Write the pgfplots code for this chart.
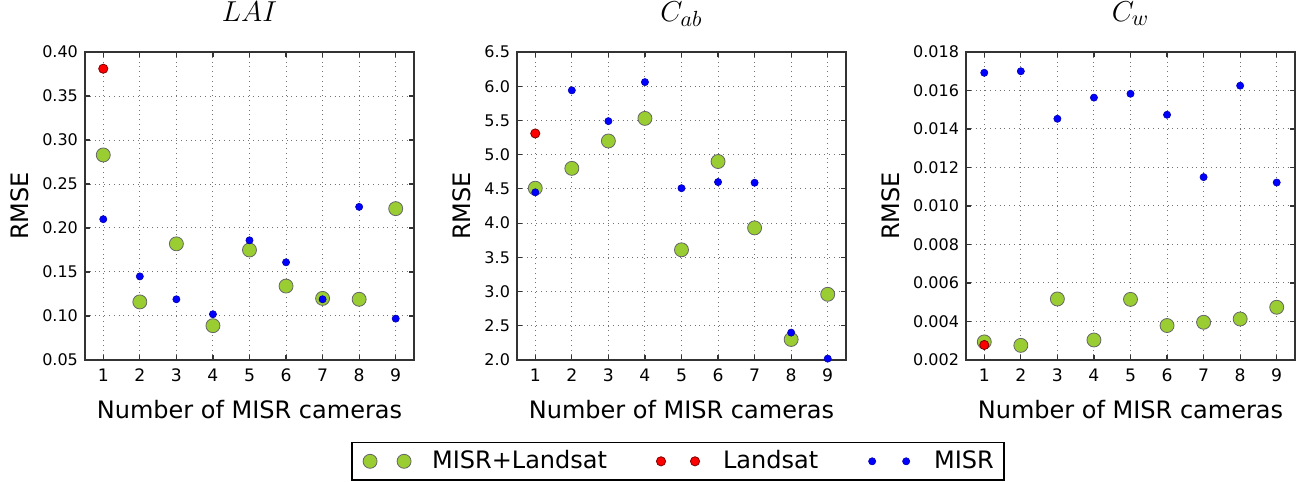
\documentclass[border=0pt]{standalone}
\usepackage{pgfplots}
\pgfplotsset{compat=1.18}
\usepackage{fontspec}
\setmainfont{DejaVu Sans}
\definecolor{mgreen}{HTML}{9ACD32}
\definecolor{mred}{HTML}{FF0000}
\definecolor{mblue}{HTML}{0000FF}
\definecolor{axgray}{HTML}{333333}
\begin{document}
\begin{tikzpicture}
\path[use as bounding box] (0,0) rectangle (649pt,241pt);
\pgfplotsset{
  myax/.style={
    scale only axis, width=164.5pt, height=154pt, anchor=south west,
    xmin=0.5, xmax=9.5, xtick={1,2,3,4,5,6,7,8,9},
    grid=major, grid style={dotted, black!55, line width=0.5pt},
    axis line style={line width=0.75pt, axgray},
    tick style={axgray, line width=0.6pt}, major tick length=2.5pt, tick align=inside,
    tick label style={font=\fontsize{8}{9}\selectfont},
    /pgf/number format/assume math mode=true,
    scaled y ticks=false,
    xticklabel style={yshift=-1pt, font=\fontsize{8.6}{10}\selectfont},
    xlabel={Number of MISR cameras}, ylabel={RMSE},
    label style={font=\fontsize{12}{14}\selectfont},
    xlabel style={at={(0.5,0)}, anchor=center, yshift=-25pt},
    ylabel style={yshift=0pt},
    title style={font=\fontsize{15}{17}\selectfont, at={(0.5,1)}, anchor=base, yshift=9.3pt},
  },
  pgreen/.style={only marks, mark=*, mark size=3.5pt, mark options={fill=mgreen, draw=black!60, line width=0.4pt}},
  pred/.style={only marks, mark=*, mark size=2.3pt, mark options={fill=mred, draw=red!50!black, line width=0.4pt}},
  pblue/.style={only marks, mark=*, mark size=1.8pt, mark options={fill=mblue, draw=mblue!70!black, line width=0.3pt}},
  limg/.style={legend image code/.code={\draw[##1] plot coordinates {(0pt,0pt) (17pt,0pt)}; \path[draw=none,fill=none] (-4pt,-4pt) rectangle (21pt,4pt);}},
}
% ---------- LAI ----------
\begin{axis}[myax, at={(42.5pt,61pt)}, title={$LAI$},
  ymin=0.05, ymax=0.40, ytick={0.05,0.10,0.15,0.20,0.25,0.30,0.35,0.40},
  yticklabel style={/pgf/number format/.cd, fixed, fixed zerofill, precision=2}]
\addplot[pgreen] coordinates {(1,0.283) (2,0.116) (3,0.182) (4,0.089) (5,0.175) (6,0.134) (7,0.120) (8,0.119) (9,0.222)};
\addplot[pred] coordinates {(1,0.381)};
\addplot[pblue] coordinates {(1,0.210) (2,0.145) (3,0.119) (4,0.102) (5,0.186) (6,0.161) (7,0.119) (8,0.224) (9,0.097)};
\end{axis}
% ---------- Cab ----------
\begin{axis}[myax, at={(258.5pt,61pt)}, title={$C_{ab}$},
  ymin=2.0, ymax=6.5, ytick={2.0,2.5,3.0,3.5,4.0,4.5,5.0,5.5,6.0,6.5},
  yticklabel style={/pgf/number format/.cd, fixed, fixed zerofill, precision=1},
  legend columns=3,
  legend style={at={(0.4893,-0.392)}, anchor=south, draw=black, line width=0.8pt,
    font=\fontsize{12}{14}\selectfont, inner xsep=5pt, inner ysep=4pt,
    nodes={inner sep=0pt},
    /tikz/every odd column/.append style={column sep=10pt},
    /tikz/every even column/.append style={column sep=23pt}}]
\addplot[pgreen, limg] coordinates {(1,4.51) (2,4.80) (3,5.20) (4,5.53) (5,3.61) (6,4.90) (7,3.93) (8,2.30) (9,2.96)};
\addlegendentry{MISR+Landsat}
\addplot[pred, limg] coordinates {(1,5.31)};
\addlegendentry{Landsat}
\addplot[pblue, limg] coordinates {(1,4.45) (2,5.94) (3,5.49) (4,6.06) (5,4.51) (6,4.60) (7,4.59) (8,2.40) (9,2.02)};
\addlegendentry{MISR}
\end{axis}
% ---------- Cw ----------
\begin{axis}[myax, at={(483pt,61pt)}, title={$C_{w}$},
  ymin=0.002, ymax=0.018, ytick={0.002,0.004,0.006,0.008,0.010,0.012,0.014,0.016,0.018},
  yticklabel style={/pgf/number format/.cd, fixed, fixed zerofill, precision=3}]
\addplot[pgreen] coordinates {(1,0.00294) (2,0.00276) (3,0.00517) (4,0.00304) (5,0.00515) (6,0.00379) (7,0.00396) (8,0.00413) (9,0.00474)};
\addplot[pred] coordinates {(1,0.00278)};
\addplot[pblue] coordinates {(1,0.01692) (2,0.01700) (3,0.01453) (4,0.01563) (5,0.01583) (6,0.01474) (7,0.01150) (8,0.01625) (9,0.01122)};
\end{axis}
\end{tikzpicture}
\end{document}
